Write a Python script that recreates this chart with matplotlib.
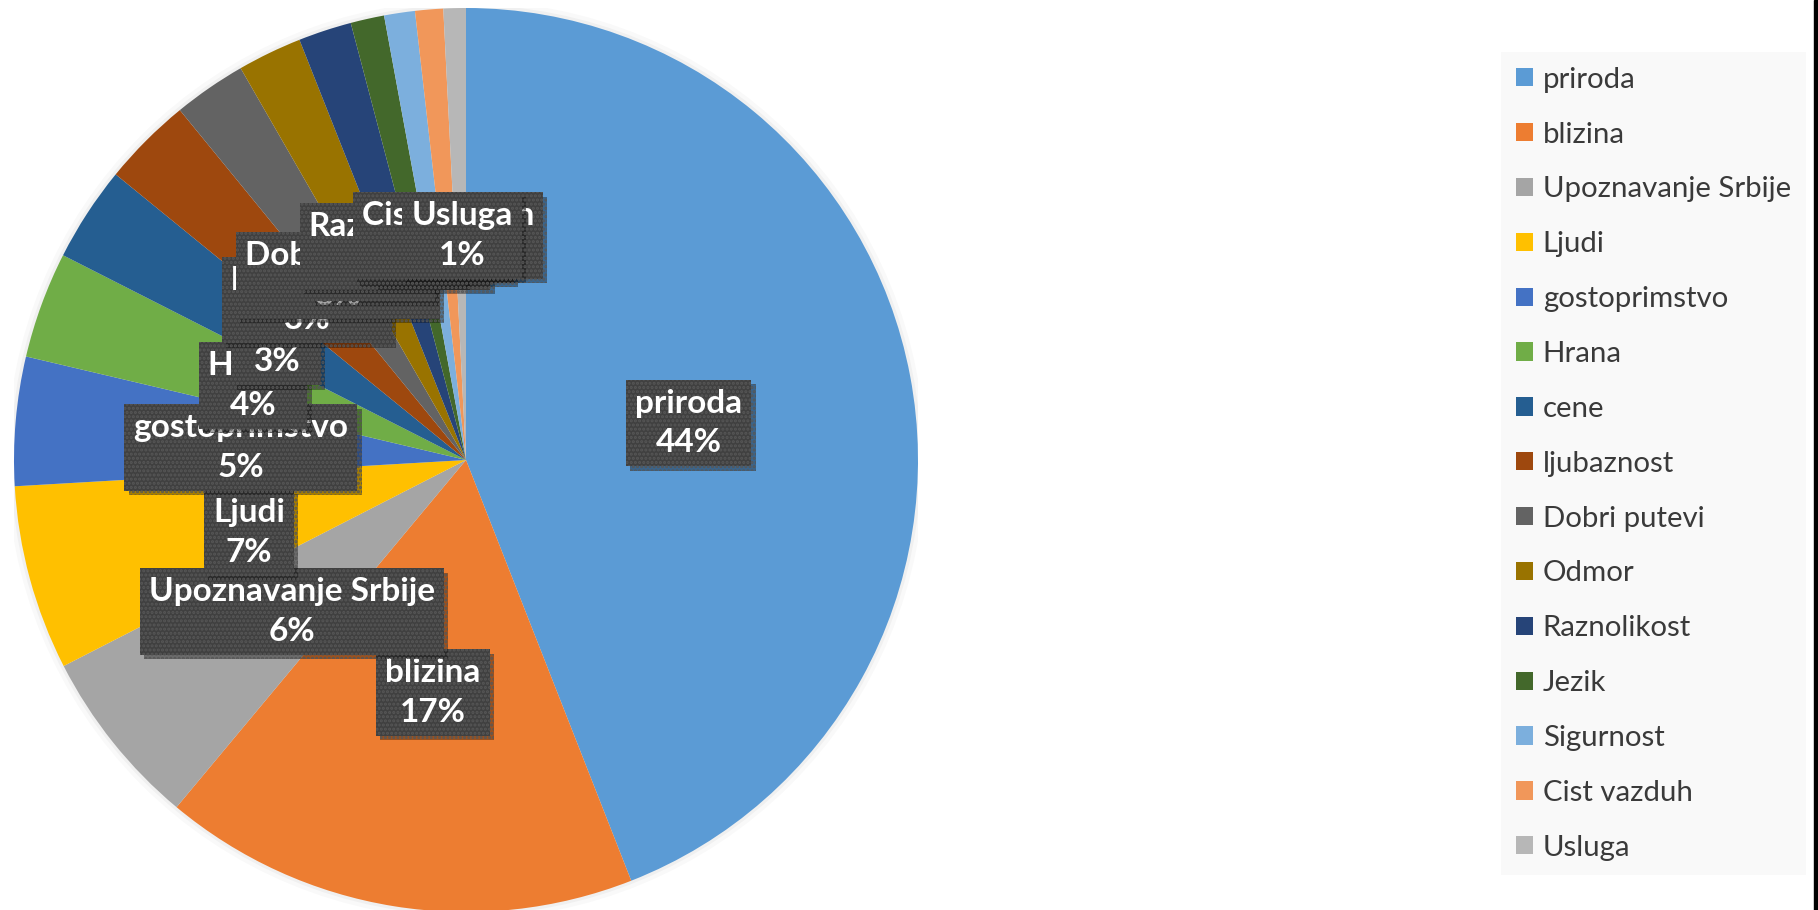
import matplotlib
matplotlib.use("Agg")
import matplotlib.pyplot as plt
import matplotlib.patheffects as pe
from matplotlib.patches import Rectangle, Circle

# podaci (procenti po kategoriji)
kategorije = ["priroda", "blizina", "Upoznavanje Srbije", "Ljudi", "gostoprimstvo",
              "Hrana", "cene", "ljubaznost", "Dobri putevi", "Odmor",
              "Raznolikost", "Jezik", "Sigurnost", "Cist vazduh", "Usluga"]
vrednosti = [44.0, 17.0, 6.4, 6.6, 4.6, 3.8, 3.4, 3.2, 2.6, 2.3, 1.9, 1.2, 1.1, 1.0, 0.8]

boje = ["#5B9BD5", "#ED7D31", "#A5A5A5", "#FFC000", "#4472C4", "#70AD47",
        "#255E91", "#9E480E", "#636363", "#997300", "#264478", "#43682B",
        "#7CAFDD", "#F1975A", "#B7B7B7"]

# pozicije etiketa (u jedinicama poluprecnika)
pozicije = [(0.493, 0.082), (-0.073, -0.515), (-0.385, -0.336), (-0.480, -0.161),
            (-0.498, 0.027), (-0.471, 0.164), (-0.418, 0.261), (-0.352, 0.354),
            (-0.283, 0.409), (-0.206, 0.447), (-0.157, 0.473), (-0.102, 0.482),
            (-0.069, 0.487), (-0.040, 0.496), (-0.009, 0.496)]

W, H = 1818, 910
fig = plt.figure(figsize=(W / 100, H / 100), dpi=100)
fig.patch.set_facecolor("white")

cx, cy, r = 466, 460, 452
ax = fig.add_axes([(cx - r) / W, (H - cy - r) / H, 2 * r / W, 2 * r / H])

# blaga senka oko pite
ax.add_patch(Circle((0, 0), 1.016, color="#000000", alpha=0.025, lw=0, zorder=0))
ax.add_patch(Circle((0, 0), 1.007, color="#000000", alpha=0.035, lw=0, zorder=0))

wedges, _ = ax.pie(vrednosti, colors=boje, startangle=90, counterclock=False,
                   wedgeprops=dict(linewidth=0))
ax.set_xlim(-1, 1)
ax.set_ylim(-1, 1)
ax.set_aspect("equal")

plt.rcParams["hatch.linewidth"] = 1.5
ukupno = sum(vrednosti)
for i, (naziv, v) in enumerate(zip(kategorije, vrednosti)):
    x, y = pozicije[i]
    t = ax.text(x, y, f"{naziv}\n{v / ukupno * 100:.0f}%", ha="center", va="center",
                multialignment="center", color="white", fontsize=24,
                fontweight="bold", family="Lato", linespacing=1.45, zorder=10 + i,
                bbox=dict(boxstyle="square,pad=0.27", fc="#404040", ec="#575757",
                          lw=0, hatch="...."))
    t.get_bbox_patch().set_path_effects(
        [pe.withSimplePatchShadow(offset=(3, -3), shadow_rgbFace="black", alpha=0.35),
         pe.Normal()])

leg = fig.legend(wedges, kategorije, loc="upper left",
                 bbox_to_anchor=(1501 / W, 1 - 52 / H), borderaxespad=0,
                 frameon=True, fancybox=False, prop=dict(family="Lato", size=21.2),
                 labelcolor="#3a3a3a", handlelength=0.6, handleheight=0.58,
                 handletextpad=0.32, labelspacing=0.98, borderpad=0.5)
leg.get_frame().set_facecolor("#F8F8F8")
leg.get_frame().set_edgecolor("none")

# crna traka uz desnu ivicu
fig.patches.append(Rectangle((1814 / W, 0), 4 / W, 1, transform=fig.transFigure,
                             color="black", zorder=20))

fig.savefig("out.png", dpi=100)
